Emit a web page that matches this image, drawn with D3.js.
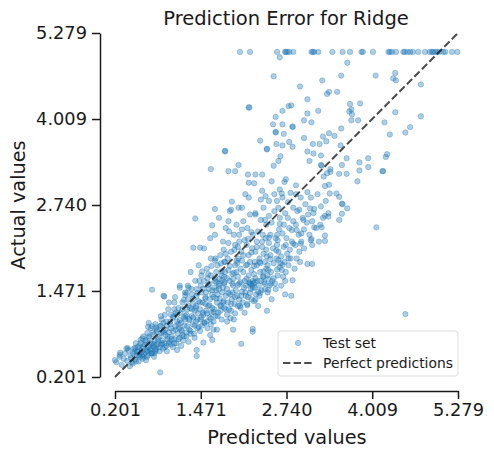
<!DOCTYPE html>
<html>
<head>
<meta charset="utf-8">
<script src="https://cdn.jsdelivr.net/npm/d3@7"></script>
<style>
  body { margin: 0; background: #fff; }
  text { font-family: "DejaVu Sans", sans-serif; fill: #1a1a1a; }
</style>
</head>
<body>
<svg id="chart"></svg>
<script>
// tick labels used on both axes
const tickValues = [0.201, 1.471, 2.740, 4.009, 5.279];

// predictions for the houses whose actual value is capped at 5.0
const capValue = 5.00001;
const cappedPredicted = [2.05, 2.20, 2.60, 2.72, 2.73, 2.75, 2.78, 2.84, 3.11, 3.13, 3.15, 3.21,
  3.42, 3.57, 3.68, 3.85, 3.87, 4.02, 4.25, 4.27, 4.30, 4.36, 4.47, 4.49, 4.53, 4.57, 4.61,
  4.69, 4.79, 4.86, 4.89, 4.91, 4.94, 4.97, 5.00, 5.06, 5.09, 5.19, 5.27];

// [predicted, actual] pairs, sparse upper and right part
const outerPoints = [
  [2.64,4.92],[3.64,4.84],[2.55,4.64],[3.27,4.58],[3.55,4.65],[4.06,4.65],[4.35,4.69],[4.32,4.61],
  [4.36,4.58],[4.73,4.52],[2.94,4.49],[3.37,4.41],[3.34,4.38],[3.49,4.41],[3.05,4.30],[3.68,4.23],
  [3.83,4.24],[3.70,4.15],[3.67,4.12],[3.71,4.08],[4.35,4.11],[4.73,4.05],[3.80,3.99],[3.70,3.99],
  [4.19,3.96],[4.57,3.89],[4.50,3.81],[4.27,3.78],[4.23,3.49],[4.21,3.45],[4.17,3.24],[4.16,3.24],
  [3.95,3.43],[3.95,3.30],[3.82,3.37],[3.82,3.25],[3.79,3.09],[4.07,2.41],[4.50,1.13],
  [2.18,4.18],[2.19,4.18],[2.68,4.13],[2.81,4.21],[2.77,4.20],[3.05,4.09],[3.21,4.13],[3.00,3.99],
  [3.11,3.96],[2.58,4.04],[2.54,3.93],[2.68,3.93],[2.83,3.90],[2.83,3.89],[2.58,3.82],[2.58,3.81],
  [2.70,3.79],[2.35,3.69],[2.78,3.67],[3.00,3.73],[3.55,3.87],[3.37,3.80],[3.45,3.76],[3.28,3.75],
  [3.23,3.64],[3.33,3.68],[3.54,3.62],[3.13,3.64],[2.83,3.60],[2.68,3.62],[2.59,3.64],[2.45,3.57],
  [2.45,3.56],[1.83,3.54],[1.83,3.53],[3.05,3.53],[3.14,3.50],[3.25,3.47],[2.65,3.46],[3.63,3.43],
  [3.08,3.39],[2.62,3.39],[3.25,3.33],[3.26,3.32],[3.56,3.33],[3.39,3.27],[2.55,3.32],[1.62,3.27],
  [2.03,3.33],[1.88,3.24],[1.98,3.24],[2.17,3.19],[2.28,3.19],[2.38,3.19],[3.39,3.23],[3.34,3.21],
  [3.52,3.20],[3.63,3.20],[3.29,3.16],[3.31,3.02],[2.73,3.12],[2.71,3.08],[2.18,3.07],[2.26,3.06],
  [2.52,3.09],[2.88,3.03],[3.37,3.04],[2.64,2.97],[2.67,2.91],[2.13,2.90],[2.43,2.87],[3.05,2.93],
  [3.38,2.91],[3.48,2.91],[3.52,2.86],[3.56,2.76],[3.57,2.75],[3.64,2.69],[3.56,2.61],[3.52,2.52],
  [3.31,2.58],[3.36,2.57],[3.26,2.41],[3.31,2.29],[3.31,2.21],[3.15,2.41],[3.11,2.24],[3.05,1.87],
  [3.12,1.87],[2.77,1.95],[2.83,1.63],[2.72,1.42],[2.81,1.40],[2.45,1.18],[2.24,0.91],[2.24,0.87],
  [2.07,0.69],[1.95,0.90],[1.64,0.75],[1.51,0.71],[1.41,0.60],[1.41,0.51],[0.87,0.27],[1.39,2.54],
  [1.68,2.68],[1.93,2.79],[1.92,2.67],[1.64,2.44],[1.36,2.11],[1.46,2.11],[0.75,1.49],[0.92,1.40],
  [0.93,1.39],[1.16,1.52],[3.09,2.69],[2.93,2.67],[2.99,2.52],[3.14,2.62],[2.64,2.46],[2.61,2.22],
  [2.73,2.15],[2.82,2.37],[2.89,2.37],[2.96,2.32],[2.95,2.17],[2.84,2.17],[3.10,2.22],[2.59,2.07],
  [2.45,1.98],[2.35,1.88],[2.62,1.93],[2.68,1.86],[2.60,1.79],[2.47,1.78],[2.40,1.68],[2.51,1.58],
  [2.47,1.49],[2.35,1.44],[2.28,1.34],[2.16,1.26],[2.05,1.25],[1.98,1.14],[1.91,1.07],[1.86,1.02],
  [1.71,0.90],[1.66,0.90],[1.61,0.82],[0.20,0.45],[0.27,0.53],[0.39,0.63],[0.51,0.43],[0.53,0.58],
  [0.62,0.65],[0.60,0.58],[0.67,0.50],[0.75,0.55],[0.78,0.55]
];

// [predicted, actual] pairs, dense band along the diagonal
const corePoints = [
  [0.22,0.42],[0.27,0.50],[0.30,0.38],[0.33,0.47],[0.35,0.55],[0.38,0.44],[0.40,0.60],[0.42,0.36],
  [0.43,0.52],[0.44,0.48],[0.28,0.56],[0.37,0.62],
  [0.46,0.40],[0.47,0.55],[0.48,0.62],[0.50,0.46],[0.51,0.70],[0.52,0.52],[0.53,0.58],[0.55,0.43],
  [0.56,0.66],[0.57,0.50],[0.58,0.75],[0.59,0.56],[0.60,0.62],[0.61,0.47],[0.62,0.80],[0.63,0.54],
  [0.64,0.68],[0.49,0.58],[0.54,0.64],[0.60,0.52],
  [0.66,0.45],[0.66,0.72],[0.67,0.58],[0.68,0.85],[0.69,0.52],[0.70,0.64],[0.71,0.78],[0.72,0.60],
  [0.73,0.92],[0.74,0.55],[0.75,0.70],[0.76,0.66],[0.77,0.83],[0.78,0.50],[0.79,0.74],[0.80,0.98],
  [0.81,0.62],[0.82,0.88],[0.83,0.68],[0.84,0.76],[0.70,1.00],[0.75,0.95],[0.80,0.58],[0.72,0.70],
  [0.78,0.64],[0.68,0.60],
  [0.86,0.58],[0.86,0.80],[0.87,0.95],[0.88,0.68],[0.89,1.05],[0.90,0.74],[0.91,0.62],[0.92,0.88],
  [0.93,0.70],[0.94,1.12],[0.95,0.82],[0.96,0.66],[0.97,0.96],[0.98,0.76],[0.99,1.20],[1.00,0.86],
  [1.01,0.72],[1.02,1.02],[1.03,0.92],[1.04,0.80],[0.92,1.00],[0.97,0.58],[1.00,1.30],[0.88,0.85],
  [0.95,0.90],[1.03,0.68],
  [1.06,0.64],[1.06,0.88],[1.07,1.10],[1.08,0.76],[1.09,1.38],[1.10,0.95],[1.11,0.70],[1.12,1.02],
  [1.13,0.84],[1.14,1.22],[1.15,0.92],[1.16,0.78],[1.17,1.15],[1.18,1.00],[1.19,0.88],[1.20,1.30],
  [1.21,0.74],[1.22,1.08],[1.23,0.96],[1.24,1.45],[1.08,1.20],[1.12,0.60],[1.16,1.55],[1.20,0.82],
  [1.24,1.05],[1.14,0.98],[1.10,1.15],[1.18,0.66],
  [1.26,0.80],[1.26,1.12],[1.27,0.95],[1.28,1.35],[1.29,0.72],[1.30,1.04],[1.31,1.22],[1.32,0.88],
  [1.33,1.50],[1.34,1.10],[1.35,0.98],[1.36,1.28],[1.37,0.84],[1.38,1.18],[1.39,1.62],[1.40,1.02],
  [1.41,1.40],[1.42,0.92],[1.43,1.14],[1.44,1.32],[1.28,1.55],[1.32,1.75],[1.36,1.08],[1.40,1.25],
  [1.44,1.85],[1.30,0.90],[1.38,0.78],[1.42,1.05],[1.34,1.42],[1.27,1.20],
  [1.46,0.88],[1.46,1.20],[1.47,1.05],[1.48,1.45],[1.49,0.96],[1.50,1.30],[1.51,1.12],[1.52,1.62],
  [1.53,1.00],[1.54,1.38],[1.55,1.18],[1.56,1.80],[1.57,0.92],[1.58,1.25],[1.59,1.50],[1.60,1.08],
  [1.61,1.35],[1.62,1.95],[1.63,1.15],[1.64,1.42],[1.48,1.70],[1.52,2.10],[1.56,1.02],[1.60,1.58],
  [1.64,1.22],[1.50,1.15],[1.58,1.72],[1.62,0.98],[1.54,1.28],[1.47,1.55],[1.61,2.25],[1.55,1.45],
  [1.66,1.02],[1.66,1.38],[1.67,1.20],[1.68,1.62],[1.69,1.10],[1.70,1.48],[1.71,1.30],[1.72,1.85],
  [1.73,1.15],[1.74,1.55],[1.75,1.36],[1.76,2.00],[1.77,1.25],[1.78,1.70],[1.79,1.45],[1.80,2.20],
  [1.81,1.32],[1.82,1.60],[1.83,1.90],[1.84,1.40],[1.68,2.30],[1.72,1.42],[1.76,1.18],[1.80,1.52],
  [1.84,2.40],[1.70,1.75],[1.74,2.55],[1.78,1.05],[1.82,1.22],[1.67,1.52],[1.81,2.08],[1.75,1.65],
  [1.69,1.95],[1.83,1.75],
  [1.86,1.12],[1.86,1.50],[1.87,1.30],[1.88,1.78],[1.89,1.20],[1.90,1.62],[1.91,1.42],[1.92,2.05],
  [1.93,1.35],[1.94,1.72],[1.95,1.55],[1.96,2.30],[1.97,1.28],[1.98,1.85],[1.99,1.48],[2.00,2.45],
  [2.01,1.40],[2.02,1.68],[2.03,1.95],[2.04,1.58],[1.88,2.50],[1.92,1.18],[1.96,1.05],[2.00,1.75],
  [2.04,2.20],[1.90,2.65],[1.94,1.45],[1.98,2.15],[2.02,1.25],[1.87,1.95],[2.03,2.70],[1.95,1.65],
  [1.89,2.35],[2.01,1.88],
  [2.06,1.22],[2.06,1.60],[2.07,1.40],[2.08,1.92],[2.09,1.30],[2.10,1.75],[2.11,1.52],[2.12,2.22],
  [2.13,1.45],[2.14,1.85],[2.15,1.65],[2.16,2.40],[2.17,1.38],[2.18,2.00],[2.19,1.58],[2.20,2.60],
  [2.21,1.50],[2.22,1.78],[2.23,2.10],[2.24,1.62],[2.08,2.70],[2.12,1.15],[2.16,1.28],[2.20,1.90],
  [2.24,2.30],[2.10,2.50],[2.14,1.55],[2.18,2.85],[2.22,1.35],[2.07,2.05],[2.23,1.55],[2.19,1.60],
  [2.21,1.58],[2.15,2.15],
  [2.26,1.32],[2.26,1.72],[2.27,1.52],[2.28,2.05],[2.29,1.42],[2.30,1.85],[2.31,1.62],[2.32,2.35],
  [2.33,1.55],[2.34,1.95],[2.35,1.75],[2.36,2.52],[2.37,1.48],[2.38,2.12],[2.39,1.68],[2.40,2.70],
  [2.41,1.60],[2.42,1.90],[2.43,2.25],[2.44,1.80],[2.28,2.62],[2.32,1.25],[2.36,2.82],[2.40,2.02],
  [2.44,2.45],[2.30,2.20],[2.34,1.40],[2.38,2.95],[2.42,1.50],[2.27,1.90],[2.39,2.30],
  [2.46,1.45],[2.46,1.85],[2.47,1.65],[2.48,2.18],[2.49,1.55],[2.50,2.00],[2.51,1.75],[2.52,2.48],
  [2.53,1.62],[2.54,2.10],[2.55,1.88],[2.56,2.65],[2.57,1.58],[2.58,2.25],[2.59,1.95],[2.60,2.80],
  [2.61,1.70],[2.62,2.05],[2.63,2.38],[2.64,1.82],[2.48,2.58],[2.52,1.35],[2.56,2.90],[2.60,2.15],
  [2.64,2.55],[2.50,2.30],[2.58,1.50],[2.62,2.70],
  [2.66,1.55],[2.66,1.98],[2.67,1.78],[2.68,2.32],[2.69,1.68],[2.70,2.12],[2.71,1.90],[2.72,2.62],
  [2.73,1.75],[2.74,2.25],[2.75,2.02],[2.76,2.78],[2.77,1.85],[2.78,2.40],[2.79,2.08],[2.80,2.92],
  [2.82,2.20],[2.84,2.50],[2.68,2.85],[2.72,1.62],[2.76,2.55],[2.80,1.95],[2.84,2.70],[2.70,2.45],
  [2.86,1.80],[2.87,2.15],[2.88,2.45],[2.89,1.95],[2.90,2.65],[2.92,2.30],[2.93,2.05],[2.95,2.85],
  [2.96,2.20],[2.98,2.55],[3.00,2.38],[3.02,2.75],[3.04,2.48],[2.88,2.90],[2.94,1.90],[3.00,2.10],
  [3.06,2.60],[3.08,2.30],[3.10,2.85],[3.12,2.50],[3.15,2.68],[3.18,2.40],[3.20,2.90],[3.22,2.20],
  [3.25,2.72],[3.28,2.55],[3.32,2.80],[3.36,2.62],[3.12,2.15],[3.24,2.45]
];

// [predicted, actual] pairs, darkest overlapping part of the band
const densePoints = [
  [0.45,0.42],[0.50,0.63],[0.55,0.52],[0.58,0.70],[0.62,0.50],[0.65,0.74],[0.68,0.58],[0.70,0.80],
  [0.72,0.62],[0.74,0.55],[0.76,0.86],[0.78,0.68],[0.80,0.60],[0.82,0.90],[0.84,0.72],[0.86,0.64],
  [0.88,0.96],[0.90,0.70],[0.92,0.86],[0.94,0.64],[0.96,1.02],[0.98,0.80],[1.00,0.70],[1.02,0.98],
  [1.04,0.76],[1.06,1.08],[1.08,0.70],[1.10,0.90],[1.12,1.12],[1.14,0.76],[1.16,1.04],[1.18,0.90],
  [1.20,1.20],[1.22,0.80],[1.24,1.10],[1.26,0.86],[1.28,1.26],[1.30,1.06],[1.32,0.84],[1.34,1.20],
  [1.36,1.36],[1.38,0.96],[1.40,1.22],[1.42,1.44],[1.44,0.94],[1.46,1.30],[1.48,1.08],[1.50,1.50],
  [1.52,1.00],[1.54,1.36],[1.56,1.14],[1.58,1.56],[1.60,1.26],[1.62,1.06],[1.64,1.48],[1.66,1.16],
  [1.68,1.66],[1.70,1.36],[1.72,1.10],[1.74,1.50],[1.76,1.26],[1.78,1.76],[1.80,1.30],[1.82,1.58],
  [1.84,1.20],[1.86,1.66],[1.88,1.44],[1.90,1.84],[1.92,1.28],[1.94,1.58],[1.96,1.74],[1.98,1.38],
  [2.00,1.92],[2.02,1.56],[2.04,1.34],[2.06,1.80],[2.08,1.46],[2.10,2.00],[2.12,1.62],[2.14,1.40],
  [2.16,1.86],[2.18,1.70],[2.20,1.44],[2.22,2.04],[2.24,1.52],[2.26,1.84],[2.28,1.66],[2.30,2.12],
  [2.32,1.46],[2.34,1.90],[2.36,1.62],[2.38,2.20],[2.40,1.76],[2.42,1.58],[2.44,2.08],[2.46,1.70],
  [2.48,2.26],[2.50,1.94],[2.55,1.66],[2.60,2.30],[2.65,1.88],
  [0.61,0.77],[0.69,0.94],[0.81,0.93],[0.88,1.10],[1.03,1.12],[1.08,1.30],[1.22,1.34],[1.29,1.52],
  [1.41,1.50],[1.49,1.76],[1.62,1.70],[1.68,1.92],[1.82,1.90],[1.88,2.18],[2.02,2.12],[2.08,2.38],
  [2.22,2.34],[2.28,2.60],[2.42,2.52],[2.48,2.80],[1.45,1.62],[1.57,1.66],[1.63,1.84],[1.77,1.88],
  [1.84,2.02],[1.97,2.08],[2.04,2.30],[2.17,2.24],[1.26,1.44],[1.24,1.41],[2.25,1.58],[2.27,1.60],
  [1.70,1.60],[1.78,1.62],[1.74,1.58],[1.82,1.68]
];

const W = 494, H = 458;
const color = "#1f77b4";

const svg = d3.select("#chart").attr("width", W).attr("height", H);

// scales
const x = d3.scaleLinear().domain([0.201, 5.279]).range([115, 458]);
const y = d3.scaleLinear().domain([0.201, 5.279]).range([377, 33]);

const points = cappedPredicted.map(p => [p, capValue])
  .concat(outerPoints, corePoints, densePoints);

// scatter
svg.append("g").selectAll("circle")
  .data(points)
  .enter()
  .append("circle")
  .attr("cx", d => x(d[0]))
  .attr("cy", d => y(d[1]))
  .attr("r", 2.7)
  .attr("fill", color).attr("fill-opacity", 0.36)
  .attr("stroke", color).attr("stroke-opacity", 0.36).attr("stroke-width", 0.9);

// perfect prediction line
svg.append("line")
  .attr("x1", x(0.201)).attr("y1", y(0.201))
  .attr("x2", x(5.279)).attr("y2", y(5.279))
  .attr("stroke", "#000").attr("stroke-opacity", 0.7)
  .attr("stroke-width", 2).attr("stroke-dasharray", "7.4,3.2");

// axes (offset spines)
const fmt = d3.format(".3f");
const xAxis = svg.append("g")
  .attr("transform", "translate(0,391)")
  .call(d3.axisBottom(x).tickValues(tickValues).tickFormat(fmt).tickSize(8).tickSizeOuter(0).tickPadding(4));
const yAxis = svg.append("g")
  .attr("transform", "translate(100,0)")
  .call(d3.axisLeft(y).tickValues(tickValues).tickFormat(fmt).tickSize(8).tickSizeOuter(0).tickPadding(5));

[xAxis, yAxis].forEach(g => {
  g.selectAll("path.domain").attr("stroke", "#1a1a1a").attr("stroke-width", 1.5);
  g.selectAll(".tick line").attr("stroke", "#1a1a1a").attr("stroke-width", 1.5);
  g.selectAll(".tick text").style("font-family", "DejaVu Sans").style("font-size", "17.8px").attr("fill", "#1a1a1a");
});

// titles
svg.append("text").attr("x", 286).attr("y", 25).attr("text-anchor", "middle")
  .style("font-size", "19.5px").text("Prediction Error for Ridge");
svg.append("text").attr("x", 287).attr("y", 444).attr("text-anchor", "middle")
  .style("font-size", "19.3px").text("Predicted values");
svg.append("text").attr("transform", "translate(25,205) rotate(-90)").attr("text-anchor", "middle")
  .style("font-size", "19.3px").text("Actual values");

// legend
const lg = svg.append("g").attr("transform", "translate(278,331)");
lg.append("rect").attr("width", 180).attr("height", 45).attr("rx", 3)
  .attr("fill", "#fff").attr("fill-opacity", 0.8).attr("stroke", "#ddd");
lg.append("circle").attr("cx", 20).attr("cy", 12).attr("r", 2.7)
  .attr("fill", color).attr("fill-opacity", 0.36)
  .attr("stroke", color).attr("stroke-opacity", 0.36).attr("stroke-width", 0.9);
lg.append("text").attr("x", 45).attr("y", 17).style("font-size", "13.9px").text("Test set");
lg.append("line").attr("x1", 5).attr("x2", 34).attr("y1", 32).attr("y2", 32)
  .attr("stroke", "#000").attr("stroke-opacity", 0.7)
  .attr("stroke-width", 2).attr("stroke-dasharray", "7.4,3.2");
lg.append("text").attr("x", 45).attr("y", 37).style("font-size", "13.9px").text("Perfect predictions");
</script>
</body>
</html>
